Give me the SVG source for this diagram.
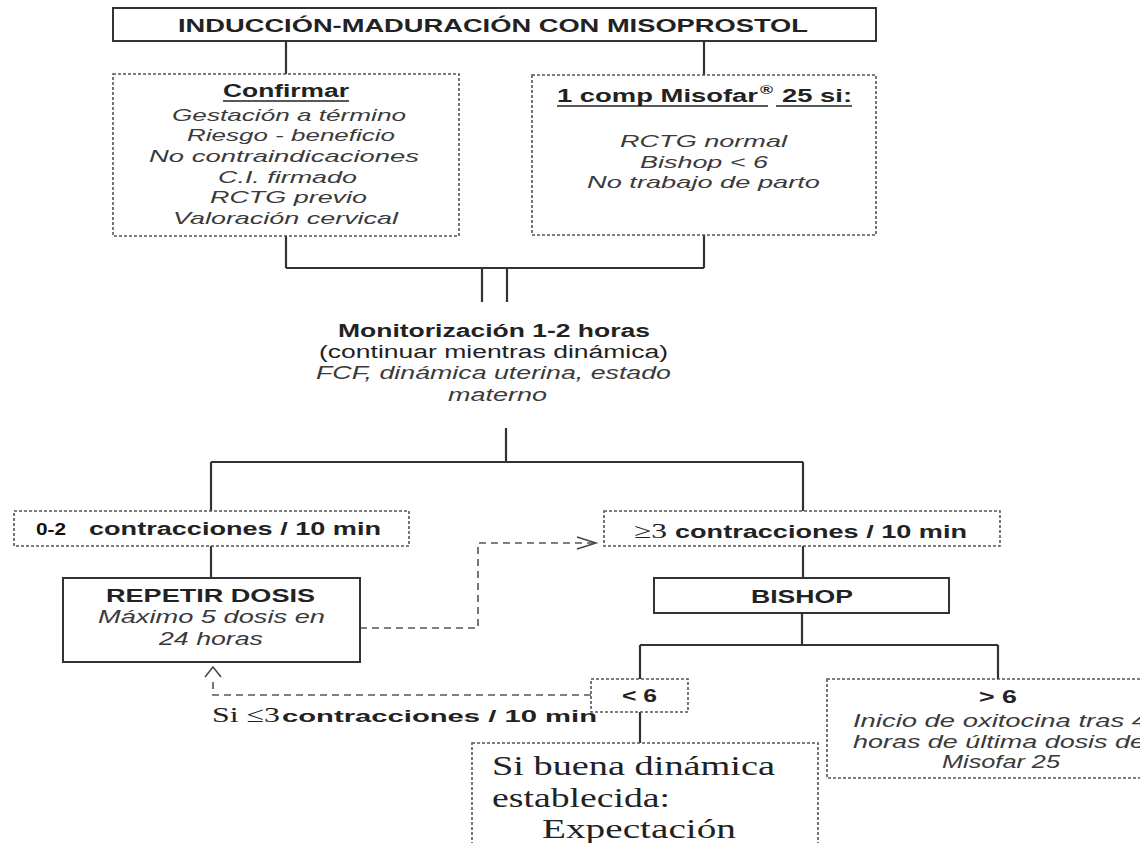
<svg xmlns="http://www.w3.org/2000/svg" width="1140" height="843" viewBox="0 0 1140 843">
<style>
.s{font-family:"Liberation Sans",Arial,sans-serif;fill:#222}
.b{font-weight:bold}
.i{font-style:italic;fill:#3a3a3a}
.sf{font-family:"Liberation Serif","Times New Roman",serif;fill:#222}
.nb{font-family:"Liberation Sans Narrow","Arial Narrow","Liberation Sans",sans-serif;font-weight:bold;fill:#111}
.solid{fill:#fff;stroke:#333;stroke-width:2}
.dot{fill:#fff;stroke:#555;stroke-width:1.6;stroke-dasharray:3 2}
.ln{fill:none;stroke:#333;stroke-width:2.2}
.dash{fill:none;stroke:#555;stroke-width:1.6;stroke-dasharray:7 5}
.arr{fill:none;stroke:#444;stroke-width:1.5}
.ul{stroke:#222;stroke-width:1.5}
</style>
<rect width="1140" height="843" fill="#fff"/>
<g id="connectors">
<path class="ln" d="M286,41 V74 M704,41 V75 M286,236 V268 M704,235 V268 M286,268 H704 M482,268 V302 M507,268 V302"/>
<path class="ln" d="M506,428 V462 M211,462 H803 M211,462 V511 M803,462 V511 M211,546 V578 M803,546 V578"/>
<path class="ln" d="M802,613 V645 M640,645 H998 M640,645 V679 M998,645 V679 M640,712 V743"/>
<path class="dash" d="M360,628 H478 V543 H594"/>
<path class="arr" d="M577,537 L596,543 L577,549"/>
<path class="dash" d="M591,695 H213 V677"/>
<path class="arr" d="M205,677 L213,667 L221,677"/>
</g>
<g id="n-title">
<rect class="solid" x="113" y="8" width="763" height="33"/>
<text class="s b" x="178" y="32" font-size="19" textLength="630" lengthAdjust="spacingAndGlyphs">INDUCCIÓN-MADURACIÓN CON MISOPROSTOL</text>
</g>
<g id="n-confirmar">
<rect class="dot" x="113" y="74" width="346" height="162"/>
<text class="s b" x="223" y="97" font-size="18" textLength="126" lengthAdjust="spacingAndGlyphs">Confirmar</text>
<line class="ul" x1="223" y1="101" x2="349" y2="101"/>
<text class="s i" x="172" y="121" font-size="17" textLength="234" lengthAdjust="spacingAndGlyphs">Gestación a término</text>
<text class="s i" x="187" y="141" font-size="17" textLength="208" lengthAdjust="spacingAndGlyphs">Riesgo - beneficio</text>
<text class="s i" x="149" y="162" font-size="17" textLength="270" lengthAdjust="spacingAndGlyphs">No contraindicaciones</text>
<text class="s i" x="218" y="183" font-size="17" textLength="139" lengthAdjust="spacingAndGlyphs">C.I. firmado</text>
<text class="s i" x="210" y="203" font-size="17" textLength="157" lengthAdjust="spacingAndGlyphs">RCTG previo</text>
<text class="s i" x="173" y="224" font-size="17" textLength="225" lengthAdjust="spacingAndGlyphs">Valoración cervical</text>
</g>
<g id="n-misofar">
<rect class="dot" x="532" y="75" width="344" height="160"/>
<text class="s b" x="557" y="102" font-size="18" textLength="201" lengthAdjust="spacingAndGlyphs">1 comp Misofar</text>
<text class="s b" x="760" y="94" font-size="12" textLength="13" lengthAdjust="spacingAndGlyphs">®</text>
<text class="s b" x="782" y="102" font-size="18" textLength="70" lengthAdjust="spacingAndGlyphs">25 si:</text>
<line class="ul" x1="557" y1="106" x2="768" y2="106"/>
<line class="ul" x1="776" y1="106" x2="852" y2="106"/>
<text class="s i" x="620" y="147" font-size="17" textLength="167" lengthAdjust="spacingAndGlyphs">RCTG normal</text>
<text class="s i" x="640" y="168" font-size="17" textLength="128" lengthAdjust="spacingAndGlyphs">Bishop &lt; 6</text>
<text class="s i" x="587" y="188" font-size="17" textLength="233" lengthAdjust="spacingAndGlyphs">No trabajo de parto</text>
</g>
<g id="n-monitorizacion">
<text class="s b" x="338" y="337" font-size="18" textLength="312" lengthAdjust="spacingAndGlyphs">Monitorización 1-2 horas</text>
<text class="s" x="319" y="358" font-size="18" textLength="349" lengthAdjust="spacingAndGlyphs">(continuar mientras dinámica)</text>
<text class="s i" x="316" y="379" font-size="18" textLength="355" lengthAdjust="spacingAndGlyphs">FCF, dinámica uterina, estado</text>
<text class="s i" x="448" y="401" font-size="18" textLength="99" lengthAdjust="spacingAndGlyphs">materno</text>
</g>
<g id="n-0-2">
<rect class="dot" x="14" y="511" width="395" height="35"/>
<text class="nb" x="36" y="535" font-size="16" textLength="30" lengthAdjust="spacingAndGlyphs">0-2</text>
<text class="s b" x="89" y="535" font-size="18" textLength="292" lengthAdjust="spacingAndGlyphs">contracciones / 10 min</text>
</g>
<g id="n-repetir">
<rect class="solid" x="63" y="578" width="297" height="84"/>
<text class="s b" x="106" y="602" font-size="18" textLength="209" lengthAdjust="spacingAndGlyphs">REPETIR DOSIS</text>
<text class="s i" x="98" y="623" font-size="18" textLength="227" lengthAdjust="spacingAndGlyphs">Máximo 5 dosis en</text>
<text class="s i" x="159" y="645" font-size="18" textLength="104" lengthAdjust="spacingAndGlyphs">24 horas</text>
</g>
<g id="n-ge3">
<rect class="dot" x="604" y="511" width="396" height="35"/>
<text class="sf" x="634" y="538" font-size="21" textLength="33" lengthAdjust="spacingAndGlyphs">≥3</text>
<text class="s b" x="675" y="538" font-size="18" textLength="292" lengthAdjust="spacingAndGlyphs">contracciones / 10 min</text>
</g>
<g id="n-bishop">
<rect class="solid" x="654" y="578" width="295" height="35"/>
<text class="s b" x="751" y="603" font-size="18" textLength="102" lengthAdjust="spacingAndGlyphs">BISHOP</text>
</g>
<g id="n-lt6">
<rect class="dot" x="591" y="679" width="97" height="33"/>
<text class="s b" x="622" y="702" font-size="18" textLength="35" lengthAdjust="spacingAndGlyphs">&lt; 6</text>
</g>
<g id="n-label-si">
<text class="sf" x="212" y="722" font-size="22" textLength="68" lengthAdjust="spacingAndGlyphs">Si ≤3</text>
<text class="s b" x="282" y="722" font-size="17" textLength="315" lengthAdjust="spacingAndGlyphs">contracciones / 10 min</text>
</g>
<g id="n-expectacion">
<rect class="dot" x="472" y="743" width="346" height="110"/>
<text class="sf" x="492" y="775" font-size="27" textLength="283" lengthAdjust="spacingAndGlyphs">Si buena dinámica</text>
<text class="sf" x="492" y="807" font-size="27" textLength="178" lengthAdjust="spacingAndGlyphs">establecida:</text>
<text class="sf" x="542" y="838" font-size="27" textLength="194" lengthAdjust="spacingAndGlyphs">Expectación</text>
</g>
<g id="n-gt6">
<rect class="dot" x="827" y="679" width="360" height="99"/>
<text class="s b" x="979" y="703" font-size="18" textLength="38" lengthAdjust="spacingAndGlyphs">&gt; 6</text>
<text class="s i" x="853" y="727" font-size="18" textLength="294" lengthAdjust="spacingAndGlyphs">Inicio de oxitocina tras 4</text>
<text class="s i" x="853" y="748" font-size="18" textLength="292" lengthAdjust="spacingAndGlyphs">horas de última dosis de</text>
<text class="s i" x="942" y="768" font-size="18" textLength="118" lengthAdjust="spacingAndGlyphs">Misofar 25</text>
</g>
</svg>
